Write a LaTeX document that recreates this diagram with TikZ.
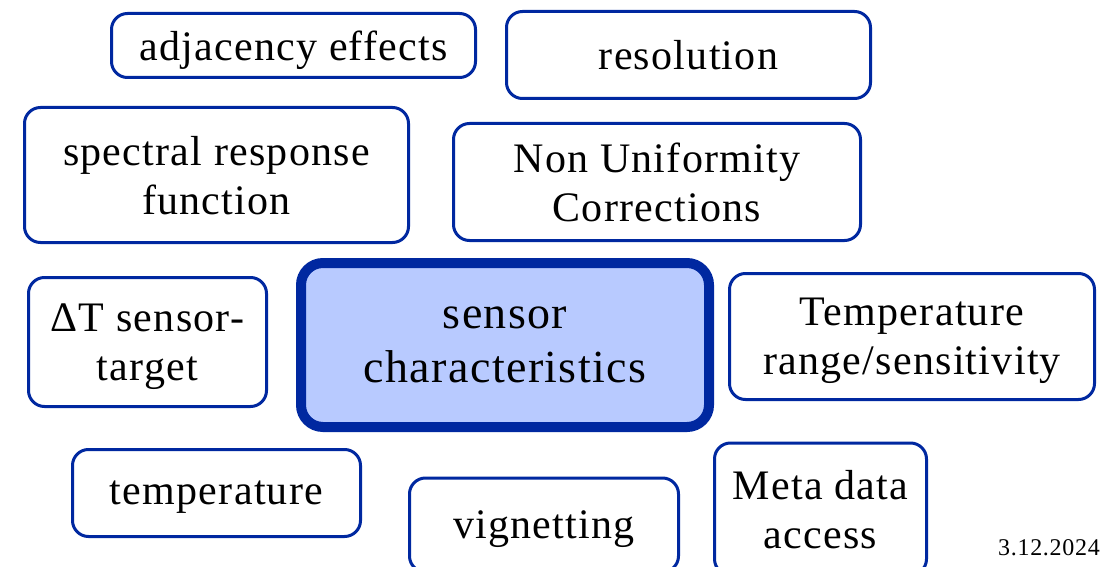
\documentclass[tikz,border=0pt]{standalone}
\usepackage{fontspec}
\setmainfont{Liberation Serif}[LetterSpace=3]
\definecolor{frameblue}{RGB}{0,40,160}
\definecolor{coreblue}{RGB}{184,202,255}
\tikzset{
  topic/.style={draw=frameblue, line width=3pt, rounded corners=16pt, fill=white,
    align=center, inner sep=0pt, text depth=0pt, font=\fontsize{42}{49}\selectfont},
  core/.style={draw=frameblue, line width=10pt, rounded corners=22pt, fill=coreblue,
    align=center, inner sep=0pt, text depth=0pt, font=\fontsize{46}{54}\selectfont},
}
\begin{document}
\begin{tikzpicture}[x=1pt,y=-1pt]
  \clip (0,0) rectangle (1104,567);
  \fill[white] (0,0) rectangle (1104,567);

  \node[topic, minimum width=364pt, minimum height=64pt]  (adj)  at (293.5,45.5) {adjacency effects};
  \node[topic, minimum width=364pt, minimum height=87pt]  (res)  at (688.5,55)   {resolution};
  \node[topic, minimum width=384pt, minimum height=135pt] (srf)  at (216.5,175)  {spectral response\\function};
  \node[topic, minimum width=407pt, minimum height=117pt] (nuc)  at (657,182)    {Non Uniformity\\Corrections};
  \node[topic, minimum width=238pt, minimum height=129pt] (dT)   at (147.5,342)  {ΔT sensor-\\target};
  \node[core,  minimum width=408pt, minimum height=164pt] (sc)   at (505,345)    {sensor\\characteristics};
  \node[topic, minimum width=365pt, minimum height=126pt] (rng)  at (912,336.5)  {Temperature\\range/sensitivity};
  \node[topic, minimum width=288pt, minimum height=87pt]  (tmp)  at (216.5,493)  {temperature};
  \node[topic, minimum width=269pt, minimum height=94pt]  (vig)  at (544,525)    {vignetting};
  \node[topic, minimum width=212pt, minimum height=132pt] (meta) at (820.5,509)  {Meta data\\access};

  \node[font=\fontsize{24}{28}\selectfont, inner sep=0pt] (date) at (1049,548) {3.12.2024};
\end{tikzpicture}
\end{document}
